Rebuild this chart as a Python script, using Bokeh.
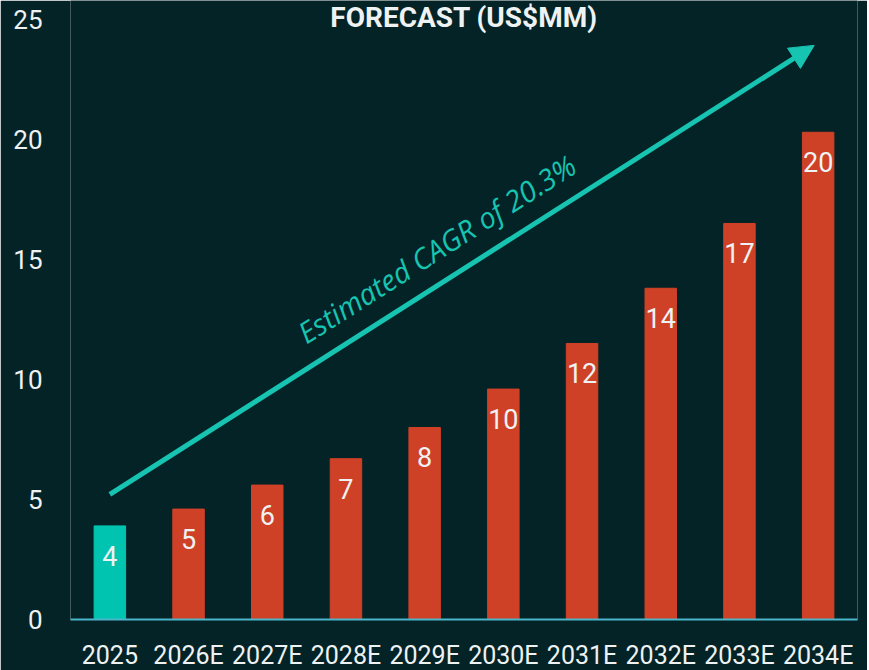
from bokeh.plotting import figure
from bokeh.models import (FactorRange, Range1d, ColumnDataSource, LabelSet,
                          Arrow, NormalHead, FixedTicker)
from bokeh.core.properties import value
from bokeh.embed import file_html
from bokeh.resources import INLINE

# ---- data ----
years = ["2025", "2026E", "2027E", "2028E", "2029E",
         "2030E", "2031E", "2032E", "2033E", "2034E"]
market = [3.9, 4.6, 5.6, 6.7, 8.0, 9.6, 11.5, 13.8, 16.5, 20.3]
bar_labels = ["4", "5", "6", "7", "8", "10", "12", "14", "17", "20"]
y_ticks = [0, 5, 10, 15, 20, 25]
title_text = "FORECAST (US$MM)"
cagr_text = "Estimated CAGR of 20.3%"

# ---- styles ----
BG = "#042326"
TEAL = "#00c4b0"
RED = "#cf4127"
ARROW = "#17c4b1"
WHITE = "#eef2f2"
FONT = "Roboto"

colors = [RED if y.endswith("E") else TEAL for y in years]
src = ColumnDataSource(dict(year=years, value=market, label=bar_labels, color=colors))

p = figure(frame_width=787, frame_height=619, output_backend="svg",
           toolbar_location=None,
           x_range=FactorRange(*years, range_padding=0),
           y_range=Range1d(0, 25.79),
           min_border_left=70, min_border_right=10, min_border_top=0,
           min_border_bottom=49)

p.background_fill_color = BG
p.border_fill_color = BG
p.outline_line_color = None
p.grid.visible = False

p.vbar(x="year", top="value", width=0.4, color="color", source=src)

labels = LabelSet(x="year", y="value", text="label", source=src,
                  y_offset=-30, text_align="center", text_baseline="middle",
                  text_color=WHITE, text_font=value(FONT), text_font_size="27px")
p.add_layout(labels)

# growth arrow and CAGR annotation
p.add_layout(Arrow(end=NormalHead(size=24, fill_color=ARROW, line_color=ARROW),
                   x_start=0.5, y_start=5.21, x_end=9.45, y_end=23.92,
                   line_color=ARROW, line_width=5))
p.text(x=[4.65], y=[15.46], text=[cagr_text], angle=0.567,
       text_align="center", text_baseline="middle", text_color=ARROW,
       text_font=value("Open Sans"), text_font_style="italic",
       text_font_size="29px")

# title (cut at the top edge in the source)
p.text(x=[5.0], y=[25.79], text=[title_text], text_align="center",
       text_baseline="top", text_color=WHITE, text_font=value(FONT),
       text_font_style="bold", text_font_size="28px")

# axes
p.yaxis.ticker = FixedTicker(ticks=y_ticks)
p.yaxis.axis_line_color = None
p.yaxis.major_tick_line_color = None
p.yaxis.minor_tick_line_color = None
p.yaxis.major_label_standoff = 22
p.yaxis.major_label_text_color = WHITE
p.yaxis.major_label_text_font = FONT
p.yaxis.major_label_text_font_size = "26px"

p.xaxis.axis_line_color = "#4ab6ca"
p.xaxis.axis_line_width = 2
p.xaxis.major_tick_line_color = None
p.xaxis.minor_tick_line_color = None
p.xaxis.major_label_standoff = 15
p.xaxis.major_label_text_color = WHITE
p.xaxis.major_label_text_font = FONT
p.xaxis.major_label_text_font_size = "25px"

open("out.html", "w").write(file_html(p, INLINE))
